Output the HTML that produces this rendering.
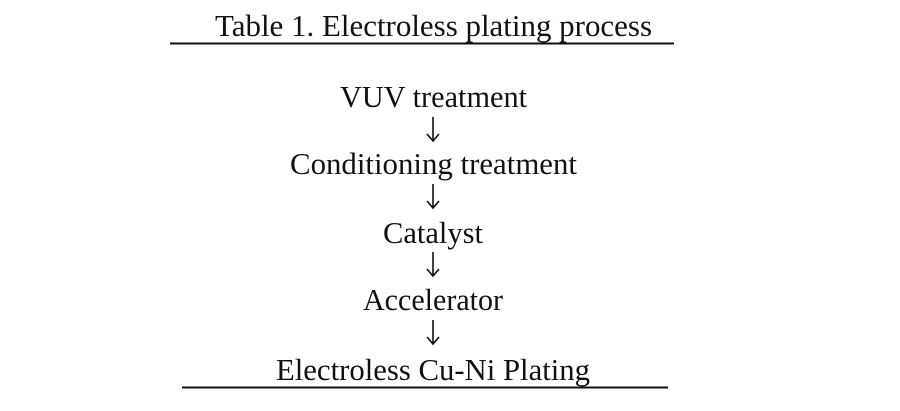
<!DOCTYPE html>
<html><head><meta charset="utf-8"><style>html,body{margin:0;padding:0;background:#fff;}</style></head>
<body>
<svg width="900" height="406" viewBox="0 0 900 406" xmlns="http://www.w3.org/2000/svg" font-family="Liberation Serif, Noto Serif CJK SC, serif" font-size="31" fill="#111">
<text x="215" y="36" textLength="437" lengthAdjust="spacingAndGlyphs">Table 1. Electroless plating process</text>
<line x1="170" y1="43.5" x2="674" y2="43.5" stroke="#111" stroke-width="2"/>
<text x="340" y="107" textLength="187" lengthAdjust="spacingAndGlyphs">VUV treatment</text>
<text x="290" y="174" textLength="287" lengthAdjust="spacingAndGlyphs">Conditioning treatment</text>
<text x="383" y="243" textLength="100" lengthAdjust="spacingAndGlyphs">Catalyst</text>
<text x="363" y="310" textLength="140" lengthAdjust="spacingAndGlyphs">Accelerator</text>
<text x="276" y="380" textLength="314" lengthAdjust="spacingAndGlyphs">Electroless Cu-Ni Plating</text>
<line x1="182" y1="387.5" x2="668" y2="387.5" stroke="#111" stroke-width="2"/>
<g stroke="#111" stroke-width="1.6" fill="none">
<path d="M433 117 V141 M427 134 L433 141 L439 134"/>
<path d="M433 184 V208 M427 201 L433 208 L439 201"/>
<path d="M433 252 V276 M427 269 L433 276 L439 269"/>
<path d="M433 320 V344 M427 337 L433 344 L439 337"/>
</g>
</svg>
</body></html>
